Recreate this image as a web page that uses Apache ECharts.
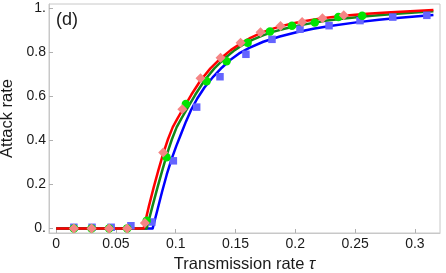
<!DOCTYPE html>
<html><head><meta charset="utf-8">
<script src="https://cdn.jsdelivr.net/npm/echarts@6/dist/echarts.min.js"></script>
<style>html,body{margin:0;padding:0;background:#fff}#c{width:446px;height:273px}</style>
</head><body><div id="c"></div>
<script>
// tick values / labels
const xTickValues = [0, 0.05, 0.1, 0.15, 0.2, 0.25, 0.3];
const xTickLabels = ["0", "0.05", "0.1", "0.15", "0.2", "0.25", "0.3"];
const yTickValues = [0, 0.2, 0.4, 0.6, 0.8, 1];
const yTickLabels = ["0.", "0.2", "0.4", "0.6", "0.8", "1."];

// theory curves [tau, attack rate]
const redCurve = [[0,0],[0.0732,0],[0.0775,0.10],[0.0815,0.185],[0.0855,0.265],[0.0895,0.34],[0.0935,0.405],[0.0975,0.46],[0.1015,0.50],[0.1055,0.537],[0.113,0.607],[0.1207,0.672],[0.129,0.727],[0.1375,0.772],[0.146,0.81],[0.1542,0.84],[0.1625,0.866],[0.1709,0.887],[0.1792,0.904],[0.1876,0.918],[0.1965,0.93],[0.2057,0.94],[0.2227,0.955],[0.2405,0.966],[0.26,0.975],[0.28,0.982],[0.3,0.988],[0.3155,0.992]];
const greenCurve = [[0,0],[0.0757,0],[0.0805,0.10],[0.0847,0.185],[0.0888,0.265],[0.0928,0.34],[0.0968,0.405],[0.1008,0.46],[0.1048,0.50],[0.1088,0.537],[0.1163,0.607],[0.124,0.672],[0.1323,0.727],[0.1408,0.772],[0.1493,0.81],[0.1578,0.84],[0.1645,0.858],[0.173,0.877],[0.1812,0.893],[0.19,0.906],[0.199,0.917],[0.208,0.927],[0.225,0.943],[0.243,0.955],[0.262,0.965],[0.282,0.974],[0.3,0.981],[0.3155,0.986]];
const blueCurve = [[0,0],[0.0807,0],[0.0845,0.08],[0.0885,0.165],[0.0925,0.245],[0.0965,0.315],[0.1005,0.375],[0.1045,0.43],[0.1085,0.485],[0.113,0.54],[0.118,0.59],[0.124,0.64],[0.1315,0.69],[0.1385,0.73],[0.1455,0.765],[0.153,0.795],[0.1615,0.82],[0.1732,0.848],[0.187,0.872],[0.201,0.891],[0.215,0.907],[0.229,0.92],[0.251,0.936],[0.27,0.948],[0.2874,0.957],[0.3155,0.969]];

// simulation points [tau, attack rate]
const bluePoints = [[0.0148,0.005],[0.030,0.005],[0.046,0.005],[0.0625,0.012],[0.080,0.029],[0.098,0.307],[0.1175,0.551],[0.137,0.689],[0.1587,0.791],[0.1805,0.859],[0.2039,0.905],[0.2282,0.921],[0.2541,0.944],[0.2815,0.96],[0.31,0.968]];
const greenPoints = [[0.0148,0],[0.0296,0],[0.0443,0],[0.0594,0],[0.0757,0.035],[0.0923,0.323],[0.1085,0.565],[0.1258,0.668],[0.1425,0.759],[0.1601,0.844],[0.1788,0.895],[0.1972,0.921],[0.2163,0.935],[0.236,0.96],[0.2559,0.966]];
const pinkPoints = [[0.0148,0],[0.0296,0],[0.0443,0],[0.0594,0],[0.0742,0.025],[0.0895,0.345],[0.1055,0.541],[0.1207,0.682],[0.1375,0.775],[0.1542,0.844],[0.1709,0.891],[0.1876,0.92],[0.2057,0.938],[0.2227,0.955],[0.2405,0.968]];

const FONT = 'Liberation Sans, Arial, sans-serif';
const chart = echarts.init(document.getElementById('c'), null, {renderer: 'canvas'});
function lineSeries(data, color) {
  return {type: 'line', data: data, showSymbol: false, symbol: 'none', smooth: false,
    lineStyle: {color: color, width: 2.5, join: 'round'}, z: 2, animation: false};
}
function ptSeries(data, symbol, size, color, z) {
  return {type: 'scatter', data: data, symbol: symbol, symbolSize: size,
    itemStyle: {color: color, opacity: 1}, z: z, animation: false};
}
chart.setOption({
  animation: false,
  grid: {left: 49, top: 4, right: 6, bottom: 40, show: true, borderColor: '#c8c8c8', borderWidth: 1,
    containLabel: false, outerBoundsMode: 'none'},
  xAxis: {
    type: 'value', min: -0.006, max: 0.321,
    name: 'Transmission rate {t|τ}', nameLocation: 'middle', nameGap: 21,
    nameTextStyle: {fontFamily: FONT, fontSize: 16.5, color: '#1a1a1a',
      rich: {t: {fontFamily: FONT, fontSize: 16.5, fontStyle: 'italic', color: '#1a1a1a'}}},
    axisLine: {show: true, onZero: false, lineStyle: {color: '#c8c8c8'}},
    axisTick: {show: true, inside: true, length: 4, lineStyle: {color: '#b0b0b0'}, customValues: xTickValues},
    axisLabel: {customValues: xTickValues, margin: 4, fontFamily: FONT, fontSize: 14, color: '#1a1a1a',
      formatter: v => { const i = xTickValues.findIndex(t => Math.abs(t - v) < 1e-9); return i >= 0 ? xTickLabels[i] : ''; }},
    splitLine: {show: false}
  },
  yAxis: {
    type: 'value', min: -0.021, max: 1.0195,
    name: 'Attack rate', nameLocation: 'middle', nameGap: 25,
    nameTextStyle: {fontFamily: FONT, fontSize: 16.5, color: '#1a1a1a'},
    axisLine: {show: true, onZero: false, lineStyle: {color: '#c8c8c8'}},
    axisTick: {show: true, inside: true, length: 4, lineStyle: {color: '#b0b0b0'}, customValues: yTickValues},
    axisLabel: {customValues: yTickValues, margin: 3, fontFamily: FONT, fontSize: 14, color: '#1a1a1a',
      formatter: v => { const i = yTickValues.findIndex(t => Math.abs(t - v) < 1e-9); return i >= 0 ? yTickLabels[i] : ''; }},
    splitLine: {show: false}
  },
  graphic: [{type: 'text', left: 56, top: 11, style: {text: '(d)', fontFamily: FONT, fontSize: 18, fill: '#1a1a1a'}}],
  series: [
    lineSeries(blueCurve, '#0000ff'),
    lineSeries(greenCurve, '#12881a'),
    lineSeries(redCurve, '#ff0000'),
    ptSeries(bluePoints, 'rect', 7.5, '#6464ff', 3),
    ptSeries(greenPoints, 'circle', 8.5, '#00e400', 4),
    ptSeries(pinkPoints, 'diamond', 10, '#f58585', 5)
  ]
});
</script></body></html>
